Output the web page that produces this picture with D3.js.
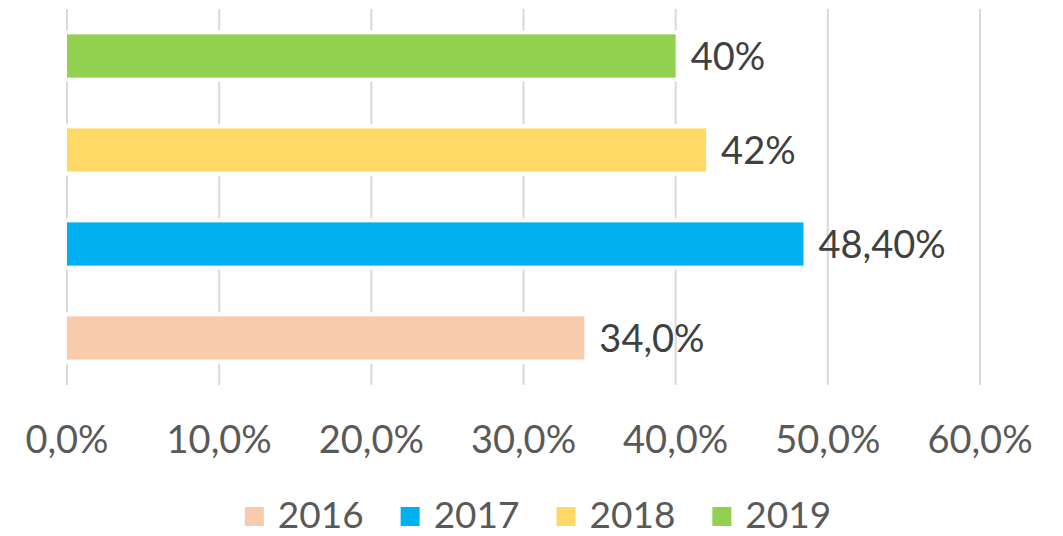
<!DOCTYPE html>
<html>
<head>
<meta charset="utf-8">
<script src="https://cdn.jsdelivr.net/npm/d3@7"></script>
<style>
  html, body { margin: 0; padding: 0; background: #ffffff; }
  svg { display: block; font-family: Lato, "Open Sans", sans-serif; }
</style>
</head>
<body>
<svg id="chart" width="1063" height="536"></svg>
<script>
// Share by year
const years = ["2016", "2017", "2018", "2019"];
const values = [0.34, 0.484, 0.42, 0.40];
const valueLabels = ["34,0%", "48,40%", "42%", "40%"];
const colors = ["#F8CBAD", "#00B0F0", "#FFD966", "#92D050"];
const tickValues = [0, 0.1, 0.2, 0.3, 0.4, 0.5, 0.6];
const tickLabels = ["0,0%", "10,0%", "20,0%", "30,0%", "40,0%", "50,0%", "60,0%"];

const svg = d3.select("#chart");
const plot = { left: 67, right: 980, top: 9, bottom: 385 };

const x = d3.scaleLinear().domain([0, 0.6]).range([plot.left, plot.right]);
// first category at the bottom
const y = d3.scaleBand()
  .domain(years.slice().reverse())
  .range([plot.top, plot.bottom])
  .paddingInner(0.54)
  .paddingOuter(0.27);

// vertical gridlines
svg.append("g")
  .selectAll("line")
  .data(tickValues)
  .join("line")
  .attr("x1", d => x(d)).attr("x2", d => x(d))
  .attr("y1", plot.top).attr("y2", plot.bottom)
  .attr("stroke", "#d9d9d9")
  .attr("stroke-width", 2);

// tick labels
svg.append("g")
  .selectAll("text")
  .data(tickValues)
  .join("text")
  .attr("x", d => x(d))
  .attr("y", 453)
  .attr("text-anchor", "middle")
  .attr("font-size", 38)
  .attr("fill", "#595959")
  .text((d, i) => tickLabels[i]);

const rows = years.map((yr, i) => ({ year: yr, value: values[i], label: valueLabels[i], color: colors[i] }));

// bars with white halo
const bars = svg.append("g");
bars.selectAll("rect.halo")
  .data(rows)
  .join("rect")
  .attr("class", "halo")
  .attr("x", x(0) - 4)
  .attr("y", d => y(d.year) - 4)
  .attr("width", d => x(d.value) - x(0) + 8)
  .attr("height", y.bandwidth() + 8)
  .attr("fill", "#ffffff");
bars.selectAll("rect.bar")
  .data(rows)
  .join("rect")
  .attr("class", "bar")
  .attr("x", x(0))
  .attr("y", d => y(d.year))
  .attr("width", d => x(d.value) - x(0))
  .attr("height", y.bandwidth())
  .attr("fill", d => d.color);

// value labels
svg.append("g")
  .selectAll("text")
  .data(rows)
  .join("text")
  .attr("x", d => x(d.value) + 15)
  .attr("y", d => y(d.year) + y.bandwidth() / 2 + 14)
  .attr("font-size", 38)
  .attr("fill", "#404040")
  .text(d => d.label);

// legend
const legend = svg.append("g");
const items = legend.selectAll("g")
  .data(rows)
  .join("g");
items.append("rect")
  .attr("width", 19).attr("height", 19)
  .attr("y", 507)
  .attr("fill", d => d.color);
items.append("text")
  .attr("y", 528)
  .attr("font-size", 37)
  .attr("fill", "#595959")
  .text(d => d.year);

let cursor = 0;
items.each(function () {
  const g = d3.select(this);
  const w = g.select("text").node().getComputedTextLength();
  g.select("rect").attr("x", cursor);
  g.select("text").attr("x", cursor + 33);
  cursor += 33 + w + 37;
});
const totalW = cursor - 37;
legend.attr("transform", `translate(${538 - totalW / 2},0)`);
</script>
</body>
</html>
